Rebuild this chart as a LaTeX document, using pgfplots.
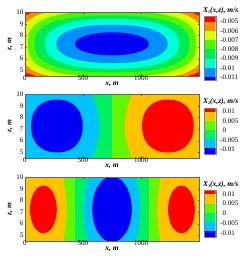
\documentclass[border=0pt]{standalone}
\usepackage{pgfplots}
\pgfplotsset{compat=1.18}
\usepackage{fontspec}
\setmainfont{Liberation Serif}
\definecolor{cR}{RGB}{255,0,0}
\definecolor{cO}{RGB}{255,140,0}
\definecolor{cY}{RGB}{220,255,0}
\definecolor{cL}{RGB}{80,245,0}
\definecolor{cG}{RGB}{0,235,80}
\definecolor{cC}{RGB}{0,255,215}
\definecolor{cA}{RGB}{0,145,255}
\definecolor{cB}{RGB}{0,0,245}
\definecolor{dO}{RGB}{255,195,0}
\definecolor{dL}{RGB}{100,245,0}
\definecolor{dG}{RGB}{0,240,100}
\definecolor{dA}{RGB}{0,195,255}
\newcommand{\ttl}[1]{\textbf{\textit{X\raisebox{-1pt}{\fontsize{4}{4}\selectfont #1}(x,z), m/s}}}
\pgfplotsset{
 panel/.style={at={(25pt,#1)},anchor=south west,width=174pt,height=63.5pt,scale only axis,
  xmin=0,xmax=1500,ymin=4.5,ymax=10,
  xtick={0,500,1000},ytick={5,6,7,8,9,10},
  tick align=inside,tick style={black!70,line width=0.3pt},major tick length=1.5pt,
  axis line style={black!60,line width=0.3pt},
  tick label style={font=\fontsize{7}{7}\selectfont},
  /pgf/number format/assume math mode=true,
  /pgf/number format/1000 sep={},
  xticklabel style={yshift=3.5pt},yticklabel style={xshift=2pt},
  xlabel={\textbf{\textit{x, m}}},ylabel={\textbf{\textit{z, m}}},
  label style={font=\fontsize{7.5}{7.5}\selectfont},
  xlabel style={yshift=6pt},ylabel style={yshift=-3pt},
  axis on top},
 cbar/.style={at={(204pt,#1)},anchor=south west,scale only axis,width=11.7pt,
  xmin=0,xmax=1,xtick=\empty,yticklabel pos=right,
  tick style={draw=none},axis line style={black!50,line width=0.3pt},
  tick label style={font=\fontsize{7}{7}\selectfont},
  yticklabel style={xshift=3.5pt},scaled y ticks=false,axis on top},
 fl/.style={fill=#1,draw=none,forget plot,smooth cycle,tension=0.55},
 pl/.style={fill=#1,draw=none,forget plot}
}
\begin{document}
\begin{tikzpicture}[x=1pt,y=1pt]
\path (0,0) rectangle (249,262);
% panel 1
\begin{axis}[panel=186pt]
\addplot[pl=cR] coordinates {(0,4.5)(1500,4.5)(1500,10)(0,10)};
\addplot[fl=cO] coordinates {(1580,7.28)(1567,8.94)(1528,9.51)(1460,9.89)(1358,10.14)(1202,10.28)(750,10.33)(298,10.28)(142,10.14)(40,9.89)(-28,9.51)(-67,8.94)(-80,7.28)(-67,5.62)(-28,5.05)(40,4.67)(142,4.42)(298,4.28)(750,4.23)(1202,4.28)(1358,4.42)(1460,4.67)(1528,5.05)(1567,5.62)};
\addplot[fl=cY] coordinates {(1540,7.28)(1523,8.61)(1472,9.28)(1386,9.78)(1262,10.11)(1090,10.31)(750,10.38)(410,10.31)(238,10.11)(114,9.78)(28,9.28)(-23,8.61)(-40,7.28)(-23,5.95)(28,5.28)(114,4.78)(238,4.45)(410,4.25)(750,4.18)(1090,4.25)(1262,4.45)(1386,4.78)(1472,5.28)(1523,5.95)};
\addplot[fl=cL] coordinates {(1475,7.28)(1458,8.36)(1405,9.0)(1317,9.49)(1193,9.83)(1028,10.03)(750,10.10)(472,10.03)(307,9.83)(183,9.49)(95,9.0)(42,8.36)(25,7.28)(42,6.20)(95,5.56)(183,5.07)(307,4.73)(472,4.53)(750,4.46)(1028,4.53)(1193,4.73)(1317,5.07)(1405,5.56)(1458,6.20)};
\addplot[fl=cG] coordinates {(1417,7.28)(1400,8.15)(1347,8.72)(1261,9.16)(1141,9.48)(986,9.68)(750,9.74)(514,9.68)(359,9.48)(239,9.16)(153,8.72)(100,8.15)(83,7.28)(100,6.41)(153,5.84)(239,5.40)(359,5.08)(514,4.88)(750,4.82)(986,4.88)(1141,5.08)(1261,5.40)(1347,5.84)(1400,6.41)};
\addplot[fl=cC] coordinates {(1330,7.28)(1314,7.98)(1264,8.50)(1185,8.90)(1077,9.20)(939,9.38)(750,9.44)(561,9.38)(423,9.20)(315,8.90)(236,8.50)(186,7.98)(170,7.28)(186,6.58)(236,6.06)(315,5.66)(423,5.36)(561,5.18)(750,5.12)(939,5.18)(1077,5.36)(1185,5.66)(1264,6.06)(1314,6.58)};
\addplot[fl=cA] coordinates {(1231,7.28)(1216,7.77)(1173,8.17)(1102,8.50)(1008,8.74)(893,8.89)(750,8.94)(607,8.89)(492,8.74)(398,8.50)(327,8.17)(284,7.77)(269,7.28)(284,6.79)(327,6.39)(398,6.06)(492,5.82)(607,5.67)(750,5.62)(893,5.67)(1008,5.82)(1102,6.06)(1173,6.39)(1216,6.79)};
\addplot[fl=cB] coordinates {(1070,7.28)(1059,7.54)(1027,7.78)(976,7.99)(910,8.15)(833,8.25)(750,8.28)(667,8.25)(590,8.15)(524,7.99)(473,7.78)(441,7.54)(430,7.28)(441,7.02)(473,6.78)(524,6.57)(590,6.41)(667,6.31)(750,6.28)(833,6.31)(910,6.41)(976,6.57)(1027,6.78)(1059,7.02)};
\end{axis}
\begin{axis}[cbar=182pt,height=64.3pt,ymin=-0.01132,ymax=-0.00436,
 ytick={-0.005,-0.006,-0.007,-0.008,-0.009,-0.01,-0.011},
 yticklabels={\llap{-}0.005,\llap{-}0.006,\llap{-}0.007,\llap{-}0.008,\llap{-}0.009,\llap{-}0.01,\llap{-}0.011}]
\addplot[pl=cR] coordinates {(0,-0.005)(1,-0.005)(1,-0.00436)(0,-0.00436)};
\addplot[pl=cO] coordinates {(0,-0.006)(1,-0.006)(1,-0.005)(0,-0.005)};
\addplot[pl=cY] coordinates {(0,-0.007)(1,-0.007)(1,-0.006)(0,-0.006)};
\addplot[pl=cL] coordinates {(0,-0.008)(1,-0.008)(1,-0.007)(0,-0.007)};
\addplot[pl=cG] coordinates {(0,-0.009)(1,-0.009)(1,-0.008)(0,-0.008)};
\addplot[pl=cC] coordinates {(0,-0.01)(1,-0.01)(1,-0.009)(0,-0.009)};
\addplot[pl=cA] coordinates {(0,-0.011)(1,-0.011)(1,-0.01)(0,-0.01)};
\addplot[pl=cB] coordinates {(0,-0.01132)(1,-0.01132)(1,-0.011)(0,-0.011)};
\end{axis}
\node[anchor=west,inner sep=0pt,font=\fontsize{7.5}{7.5}\selectfont] at (203,251) {\ttl{1}};
% panel 2
\begin{axis}[panel=104pt]
\addplot[pl=dA] coordinates {(0,4.5)(1500,4.5)(1500,10)(0,10)};
\addplot[pl=dG] coordinates {(580,10)(615,9)(636,8)(643,7.25)(636,6.5)(615,5.5)(580,4.5)(920,4.5)(885,5.5)(864,6.5)(857,7.25)(864,8)(885,9)(920,10)};
\addplot[pl=dL] coordinates {(750,4.5)(920,4.5)(885,5.5)(864,6.5)(857,7.25)(864,8)(885,9)(920,10)(750,10)};
\addplot[pl=dO] coordinates {(920,10)(885,9)(864,8)(857,7.25)(864,6.5)(885,5.5)(920,4.5)(1500,4.5)(1500,10)};
\addplot[fl=cR] coordinates {(1455,7.27)(1448,7.95)(1428,8.50)(1395,8.95)(1352,9.28)(1298,9.49)(1232,9.56)(1166,9.49)(1112,9.28)(1069,8.95)(1036,8.50)(1016,7.95)(1009,7.27)(1016,6.59)(1036,6.04)(1069,5.59)(1112,5.26)(1166,5.05)(1232,4.98)(1298,5.05)(1352,5.26)(1395,5.59)(1428,6.04)(1448,6.59)};
\addplot[fl=cB] coordinates {(498,7.27)(491,7.95)(471,8.50)(438,8.95)(395,9.28)(341,9.49)(275,9.56)(209,9.49)(155,9.28)(112,8.95)(79,8.50)(59,7.95)(52,7.27)(59,6.59)(79,6.04)(112,5.59)(155,5.26)(209,5.05)(275,4.98)(341,5.05)(395,5.26)(438,5.59)(471,6.04)(491,6.59)};
\end{axis}
\begin{axis}[cbar=108pt,height=46.3pt,ymin=-0.01222,ymax=0.0118,
 ytick={-0.01,-0.005,0,0.005,0.01},yticklabels={\llap{-}0.01,\llap{-}0.005,0,0.005,0.01}]
\addplot[pl=cR] coordinates {(0,0.0098)(1,0.0098)(1,0.0118)(0,0.0118)};
\addplot[pl=dO] coordinates {(0,0.0049)(1,0.0049)(1,0.0098)(0,0.0098)};
\addplot[pl=dL] coordinates {(0,0.0)(1,0.0)(1,0.0049)(0,0.0049)};
\addplot[pl=dG] coordinates {(0,-0.0045)(1,-0.0045)(1,0.0)(0,0.0)};
\addplot[pl=dA] coordinates {(0,-0.009)(1,-0.009)(1,-0.0045)(0,-0.0045)};
\addplot[pl=cB] coordinates {(0,-0.01222)(1,-0.01222)(1,-0.009)(0,-0.009)};
\end{axis}
\node[anchor=west,inner sep=0pt,font=\fontsize{7.5}{7.5}\selectfont] at (203,160.5) {\ttl{2}};
% panel 3
\begin{axis}[panel=21pt]
\addplot[pl=dO] coordinates {(0,4.5)(1500,4.5)(1500,10)(0,10)};
\addplot[pl=dL] coordinates {(333,10)(345,9)(358,8)(362,7.25)(358,6.5)(345,5.5)(333,4.5)(1167,4.5)(1155,5.5)(1142,6.5)(1138,7.25)(1142,8)(1155,9)(1167,10)};
\addplot[pl=dG] coordinates {(435,4.5)(1065,4.5)(1065,10)(435,10)};
\addplot[pl=dA] coordinates {(545,10)(522,9)(510,8)(507,7.25)(510,6.5)(522,5.5)(545,4.5)(955,4.5)(978,5.5)(990,6.5)(993,7.25)(990,8)(978,9)(955,10)};
\addplot[fl=cB] coordinates {(921,7.25)(908,8.34)(871,9.27)(815,9.88)(750,10.1)(685,9.88)(629,9.27)(592,8.34)(579,7.25)(592,6.16)(629,5.23)(685,4.62)(750,4.4)(815,4.62)(871,5.23)(908,6.16)};
\addplot[fl=cR] coordinates {(275,7.23)(266,8.02)(241,8.69)(203,9.14)(159,9.3)(115,9.14)(77,8.69)(52,8.02)(43,7.23)(52,6.44)(77,5.77)(115,5.32)(159,5.16)(203,5.32)(241,5.77)(266,6.44)};
\addplot[fl=cR] coordinates {(1465,7.23)(1456,8.02)(1431,8.69)(1393,9.14)(1349,9.3)(1305,9.14)(1267,8.69)(1242,8.02)(1233,7.23)(1242,6.44)(1267,5.77)(1305,5.32)(1349,5.16)(1393,5.32)(1431,5.77)(1456,6.44)};
\end{axis}
\begin{axis}[cbar=25pt,height=46.5pt,ymin=-0.0122,ymax=0.0118,
 ytick={-0.01,-0.005,0,0.005,0.01},yticklabels={\llap{-}0.01,\llap{-}0.005,0,0.005,0.01}]
\addplot[pl=cR] coordinates {(0,0.0098)(1,0.0098)(1,0.0118)(0,0.0118)};
\addplot[pl=dO] coordinates {(0,0.0049)(1,0.0049)(1,0.0098)(0,0.0098)};
\addplot[pl=dL] coordinates {(0,0.0)(1,0.0)(1,0.0049)(0,0.0049)};
\addplot[pl=dG] coordinates {(0,-0.0045)(1,-0.0045)(1,0.0)(0,0.0)};
\addplot[pl=dA] coordinates {(0,-0.009)(1,-0.009)(1,-0.0045)(0,-0.0045)};
\addplot[pl=cB] coordinates {(0,-0.0122)(1,-0.0122)(1,-0.009)(0,-0.009)};
\end{axis}
\node[anchor=west,inner sep=0pt,font=\fontsize{7.5}{7.5}\selectfont] at (203,77) {\ttl{3}};
\end{tikzpicture}
\end{document}
